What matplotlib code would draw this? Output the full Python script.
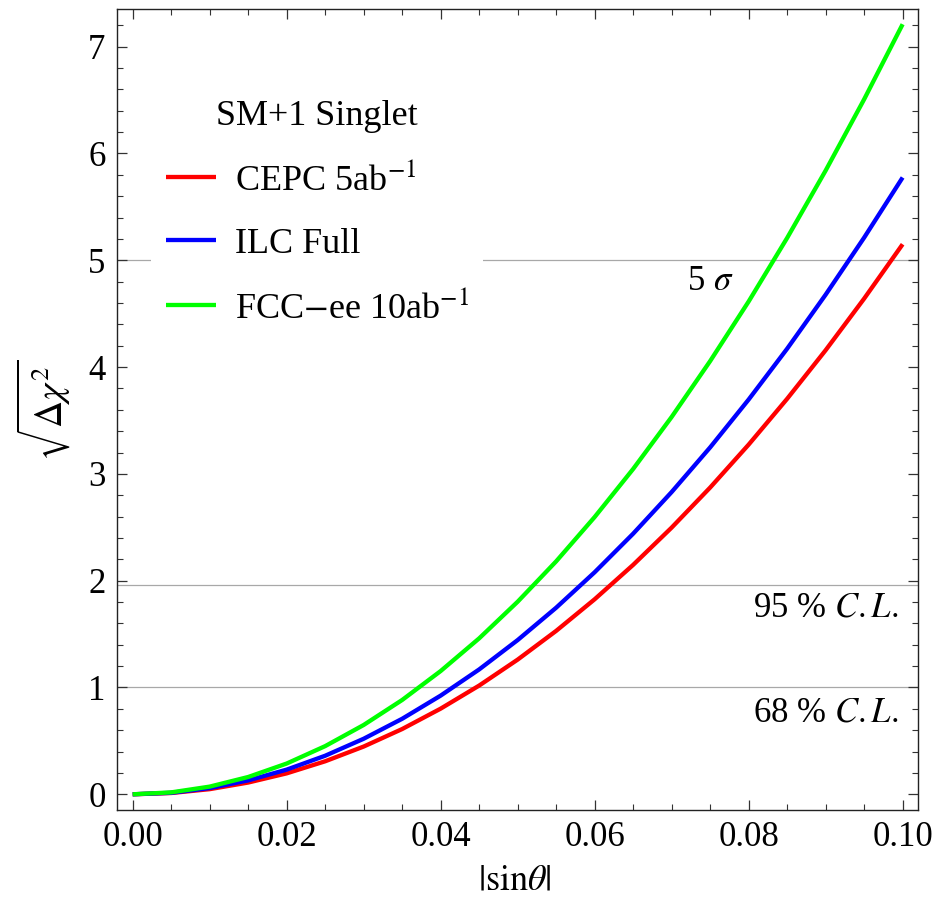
#!/usr/bin/env python3
import matplotlib
matplotlib.use('Agg')
import numpy as np
import matplotlib.pyplot as plt
from matplotlib.ticker import MultipleLocator

plt.rcParams['font.family'] = ['Liberation Serif', 'DejaVu Serif']
plt.rcParams['mathtext.fontset'] = 'stix'

# |sin theta| sample points and sqrt(delta chi^2)
sin_theta = [0.000, 0.005, 0.010, 0.015, 0.020, 0.025, 0.030, 0.035, 0.040, 0.045,
             0.050, 0.055, 0.060, 0.065, 0.070, 0.075, 0.080, 0.085, 0.090, 0.095, 0.100]
chi_cepc = [0.000, 0.012, 0.048, 0.110, 0.196, 0.309, 0.447, 0.611, 0.802, 1.018,
            1.261, 1.530, 1.826, 2.148, 2.497, 2.872, 3.274, 3.703, 4.158, 4.641, 5.150]
chi_ilc = [0.000, 0.014, 0.058, 0.130, 0.231, 0.361, 0.520, 0.707, 0.924, 1.169,
           1.444, 1.747, 2.079, 2.440, 2.830, 3.248, 3.696, 4.172, 4.678, 5.212, 5.775]
chi_fcc = [0.000, 0.018, 0.072, 0.162, 0.288, 0.451, 0.649, 0.883, 1.154, 1.460,
           1.803, 2.181, 2.596, 3.046, 3.533, 4.056, 4.614, 5.209, 5.840, 6.507, 7.210]

series_labels = [r'CEPC 5ab$^{-1}$', 'ILC Full', r'FCC$-$ee 10ab$^{-1}$']
series_colors = ['#ff0000', '#0000ff', '#00ff00']

# significance reference levels
ref_levels = [1.0, 1.96, 5.0]
ref_labels = [r'68 % $C.L.$', r'95 % $C.L.$', r'5 $\sigma$']
ref_label_x = [0.090, 0.090, 0.075]
ref_label_y = [0.68, 1.663, 4.725]

width = 9.37
height = 9.01
fig = plt.figure(figsize=(width, height), dpi=100)
ax = fig.add_axes([0.1245, 0.101, 0.8555, 0.8887])

for lvl in ref_levels:
    ax.axhline(lvl, color='#a8a8a8', lw=0.9, zorder=1)

for data, lab, col in zip([chi_cepc, chi_ilc, chi_fcc], series_labels, series_colors):
    ax.plot(sin_theta, data, color=col, lw=3.1, label=lab, zorder=3,
            solid_capstyle='butt')

for txt, tx, ty in zip(ref_labels, ref_label_x, ref_label_y):
    ax.text(tx, ty, txt, fontsize=25, ha='center', va='baseline', zorder=4)

ax.set_xlim(-0.00208, 0.10203)
ax.set_ylim(-0.147, 7.35)
ax.xaxis.set_major_locator(MultipleLocator(0.02))
ax.xaxis.set_minor_locator(MultipleLocator(0.005))
ax.yaxis.set_major_locator(MultipleLocator(1))
ax.yaxis.set_minor_locator(MultipleLocator(0.2))
ax.xaxis.set_major_formatter(matplotlib.ticker.FormatStrFormatter('%.2f'))
ax.tick_params(which='both', direction='in', top=True, right=True,
               labelsize=25, color='#333333')
ax.tick_params(which='major', length=7, width=0.9, pad=8)
ax.tick_params(which='minor', length=4, width=0.8)
for sp in ax.spines.values():
    sp.set_color('#222222')
    sp.set_linewidth(1.0)

ax.set_xlabel(r'$|\mathrm{sin}\theta|$', fontsize=26)
ax.xaxis.set_label_coords(0.497, -0.068)
ax.set_ylabel(r'$\sqrt{\Delta\chi^2}$', fontsize=27)
ax.yaxis.set_label_coords(-0.055, 0.5)

leg = ax.legend(title='SM+1 Singlet', loc='upper left',
                bbox_to_anchor=(0.043, 0.905), borderaxespad=0,
                fontsize=26, title_fontsize=26,
                frameon=True, facecolor='white', edgecolor='none', framealpha=1,
                fancybox=False, handlelength=1.39, handletextpad=0.53,
                labelspacing=0.83)
leg.set_zorder(2)

plt.savefig('out.png', dpi=100)
